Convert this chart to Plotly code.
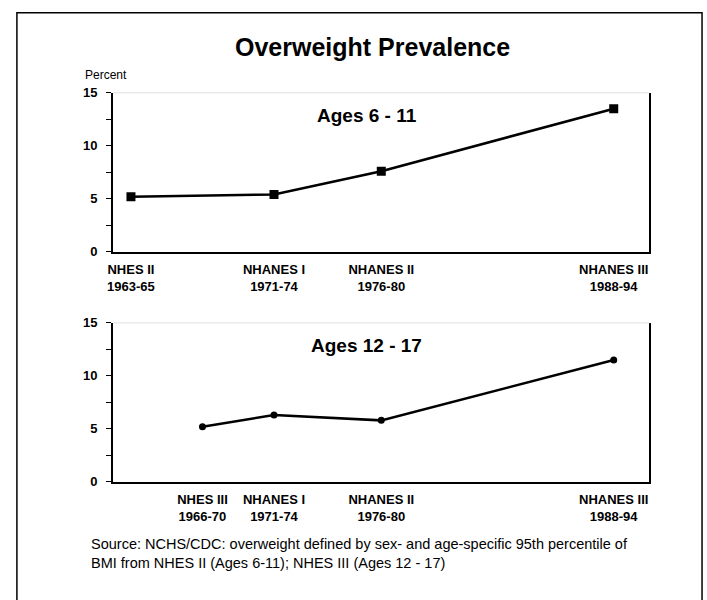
import plotly.graph_objects as go

# ---- data ----
years_child = [1964, 1972, 1978, 1991]
labels_child = ["NHES II<br>1963-65", "NHANES I<br>1971-74", "NHANES II<br>1976-80", "NHANES III<br>1988-94"]
prev_child = [5.2, 5.4, 7.6, 13.5]

years_teen = [1968, 1972, 1978, 1991]
labels_teen = ["NHES III<br>1966-70", "NHANES I<br>1971-74", "NHANES II<br>1976-80", "NHANES III<br>1988-94"]
prev_teen = [5.2, 6.3, 5.8, 11.5]

y_ticks = [0, 5, 10, 15]

W, H = 707, 600
def px(x):
    return x / W
def py(y):
    return 1 - y / H

fig = go.Figure()
fig.add_trace(go.Scatter(x=years_child, y=prev_child, mode="lines+markers",
                         line=dict(color="black", width=2.5),
                         marker=dict(symbol="square", size=9, color="black"),
                         xaxis="x", yaxis="y", showlegend=False))
fig.add_trace(go.Scatter(x=years_teen, y=prev_teen, mode="lines+markers",
                         line=dict(color="black", width=2.5),
                         marker=dict(symbol="circle", size=7, color="black"),
                         xaxis="x2", yaxis="y2", showlegend=False))

xfont = dict(family="Liberation Sans Narrow, Arial Narrow, Liberation Sans, Arial", size=13, color="black", weight="bold")
yfont = dict(family="Liberation Sans, Arial", size=13, color="black", weight="bold")

xcommon = dict(range=[1963, 1993], showline=True, linecolor="black", linewidth=2,
               ticks="", showgrid=False, zeroline=False, tickfont=xfont,
               ticklabelstandoff=5, fixedrange=True)
ycommon = dict(range=[0, 15], tickvals=y_ticks, showline=True, linecolor="black", linewidth=2,
               mirror=True, ticks="outside", ticklen=5, tickwidth=1, tickcolor="black",
               minor=dict(dtick=2.5, ticks="outside", ticklen=5, tickwidth=1, tickcolor="black"),
               showgrid=False, zeroline=False, tickfont=yfont, ticklabelstandoff=6, fixedrange=True)

x0, x1 = px(108), px(649)
fig.update_layout(
    width=W, height=H, margin=dict(l=0, r=0, t=0, b=0),
    paper_bgcolor="white", plot_bgcolor="white",
    xaxis=dict(domain=[x0, x1], anchor="y", tickvals=years_child, ticktext=labels_child, **xcommon),
    yaxis=dict(domain=[py(251), py(88)], anchor="x", **ycommon),
    xaxis2=dict(domain=[x0, x1], anchor="y2", tickvals=years_teen, ticktext=labels_teen, **xcommon),
    yaxis2=dict(domain=[py(487), py(324)], anchor="x2", **ycommon),
)

shapes = [
    # outer frame
    dict(type="rect", xref="paper", yref="paper", x0=px(11), x1=px(702), y0=-0.05, y1=py(6),
         line=dict(color="black", width=1.5)),
    # light top borders of plot areas
    dict(type="line", xref="x domain", yref="y domain", x0=0, x1=1, y0=1, y1=1,
         line=dict(color="#e0e0e0", width=1)),
    dict(type="line", xref="x2 domain", yref="y2 domain", x0=0, x1=1, y0=1, y1=1,
         line=dict(color="#e0e0e0", width=1)),
]
fig.update_layout(shapes=shapes)

base = dict(family="Liberation Sans, Arial", color="black")
annots = [
    dict(text="<b>Overweight Prevalence</b>", xref="paper", yref="paper", x=px(370), y=py(41),
         xanchor="center", yanchor="middle", showarrow=False, font=dict(size=25, **base)),
    dict(text="Percent", xref="paper", yref="paper", x=px(78), y=py(70),
         xanchor="left", yanchor="middle", showarrow=False, font=dict(size=12, **base)),
    dict(text="<b>Ages 6 - 11</b>", xref="paper", yref="paper", x=px(364), y=py(111),
         xanchor="center", yanchor="middle", showarrow=False, font=dict(size=19, **base)),
    dict(text="<b>Ages 12 - 17</b>", xref="paper", yref="paper", x=px(364), y=py(347),
         xanchor="center", yanchor="middle", showarrow=False, font=dict(size=19, **base)),
    dict(text="Source: NCHS/CDC: overweight defined by sex- and age-specific 95th percentile of<br>"
              "BMI from NHES II (Ages 6-11); NHES III (Ages 12 - 17)",
         xref="paper", yref="paper", x=px(84), y=py(560), xanchor="left", yanchor="middle",
         align="left", showarrow=False, font=dict(size=14.5, **base)),
]
fig.update_layout(annotations=annots)

fig.write_html("out.html", config={"displayModeBar": False},
               post_script="document.body.style.margin='0';document.body.style.padding='0';")
